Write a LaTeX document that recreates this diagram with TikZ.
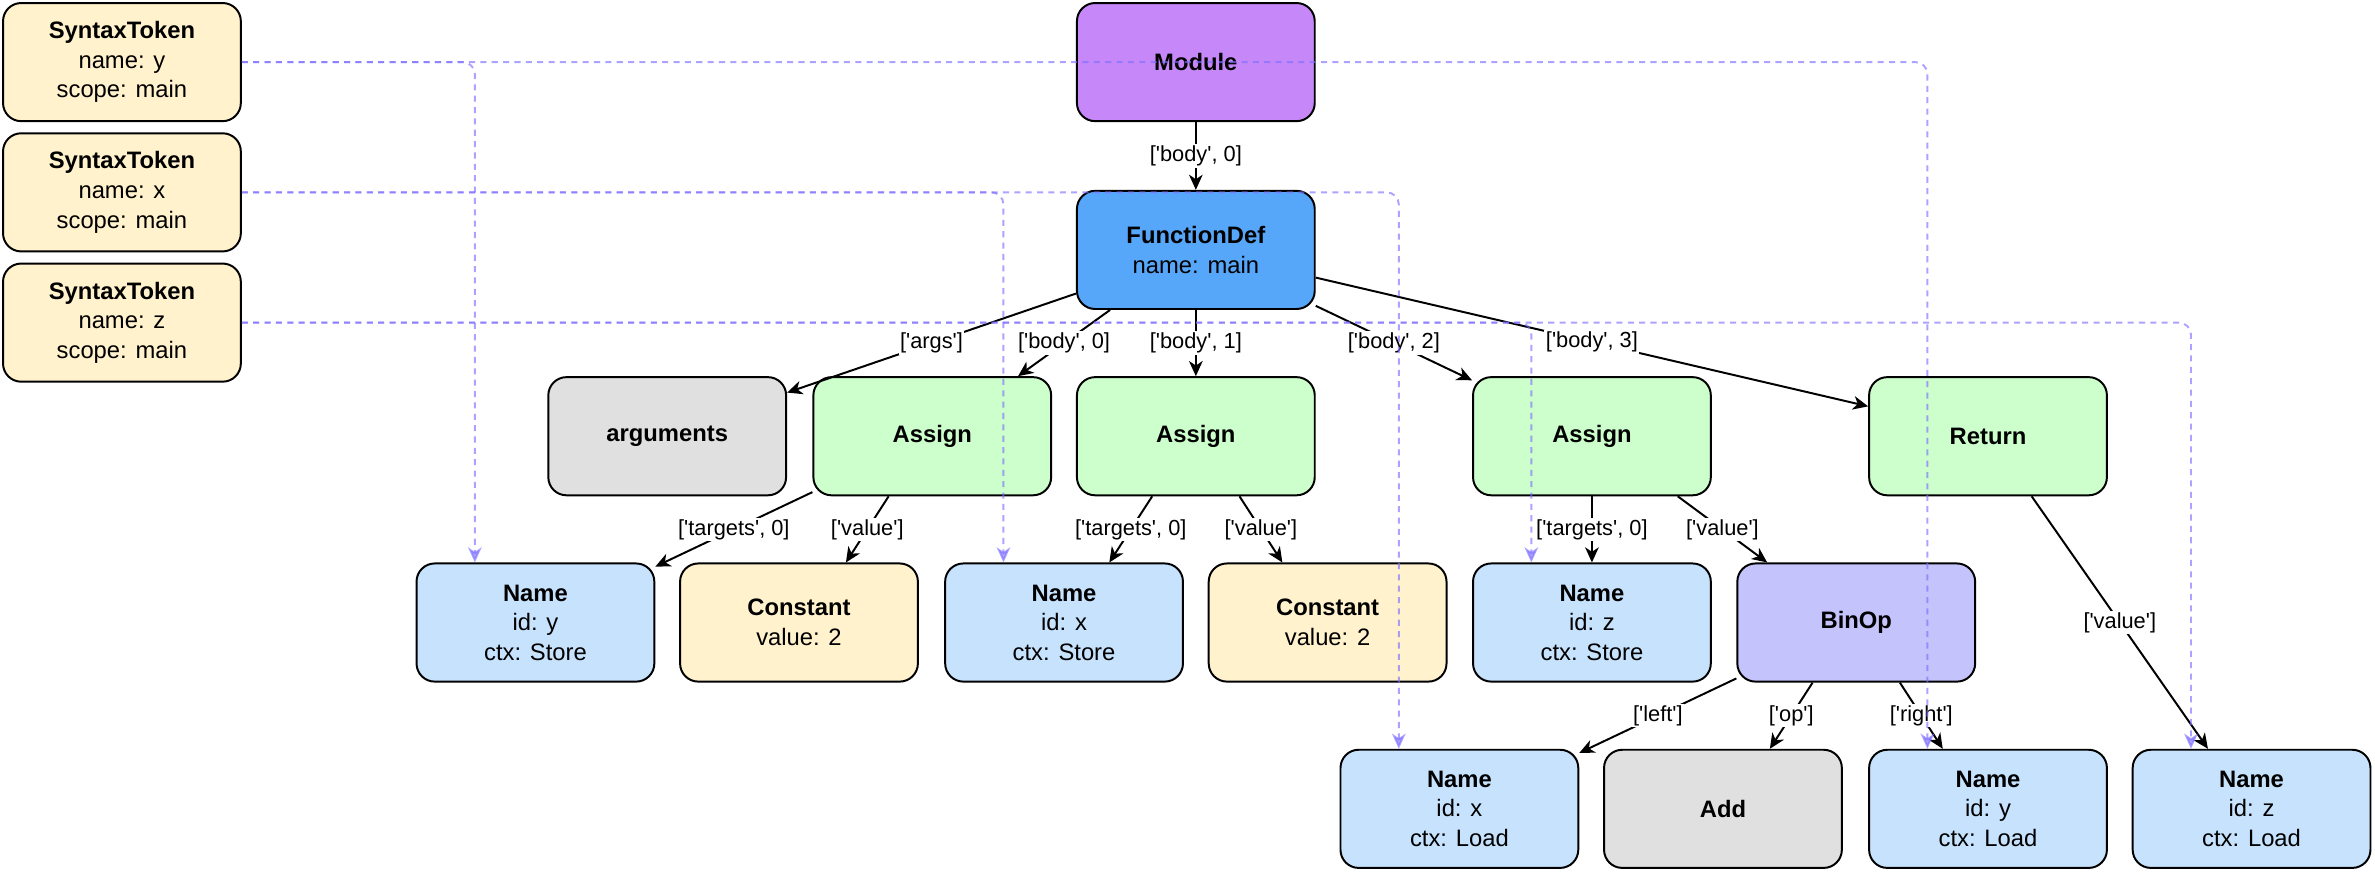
\documentclass[tikz,border=0pt]{standalone}
\usepackage{fontspec}
\setmainfont{Liberation Sans}
\usetikzlibrary{arrows.meta}

\definecolor{tokfill}{HTML}{FFF2CC}
\definecolor{modfill}{HTML}{C688F9}
\definecolor{fdfill}{HTML}{56A6F9}
\definecolor{stmtfill}{HTML}{CCFFCC}
\definecolor{namefill}{HTML}{C6E2FD}
\definecolor{greyfill}{HTML}{E0E0E0}
\definecolor{binfill}{HTML}{C4C3FB}
\definecolor{refline}{HTML}{7F70FF}

% straight quote for field labels
\newcommand{\qt}{\textquotesingle}

\begin{document}
\begin{tikzpicture}[x=1pt, y=1pt,
    box/.style={draw, line width=1.3pt, rounded corners=12pt, minimum width=157pt, minimum height=78pt,
        align=center, inner sep=0pt, font=\fontsize{15.7}{19.5}\selectfont},
    lbl/.style={fill=white, inner sep=1pt, font=\fontsize{14.4}{16}\selectfont},
    edge/.style={line width=1.3pt, -{Stealth[length=10pt, width=9pt, inset=3pt]}},
    ref/.style={draw=refline, opacity=0.65, line width=1.3pt, dash pattern=on 4pt off 3.5pt,
        rounded corners=8pt, -{Stealth[length=10pt, width=9pt, inset=3pt]}}]
    \useasboundingbox (0, 0) rectangle (1568, -577);

    % symbol table
    \node[box, fill=tokfill] (tky) at (80.5, -41) {\textbf{SyntaxToken}\\name: y\\scope: main};
    \node[box, fill=tokfill] (tkx) at (80.5, -127) {\textbf{SyntaxToken}\\name: x\\scope: main};
    \node[box, fill=tokfill] (tkz) at (80.5, -213) {\textbf{SyntaxToken}\\name: z\\scope: main};

    % tree
    \node[box, fill=modfill] (mod) at (789.5, -41) {\textbf{Module}};
    \node[box, fill=fdfill] (fdef) at (789.5, -165) {\textbf{FunctionDef}\\name: main};

    \node[box, fill=greyfill] (args) at (440.5, -288) {\textbf{arguments}};
    \node[box, fill=stmtfill] (asg1) at (615.5, -288) {\textbf{Assign}};
    \node[box, fill=stmtfill] (asg2) at (789.5, -288) {\textbf{Assign}};
    \node[box, fill=stmtfill] (asg3) at (1051, -288) {\textbf{Assign}};
    \node[box, fill=stmtfill] (ret) at (1312.5, -288) {\textbf{Return}};

    \node[box, fill=namefill] (nys) at (353.5, -411) {\textbf{Name}\\id: y\\ctx: Store};
    \node[box, fill=tokfill] (c1) at (527.5, -411) {\textbf{Constant}\\value: 2};
    \node[box, fill=namefill] (nxs) at (702.5, -411) {\textbf{Name}\\id: x\\ctx: Store};
    \node[box, fill=tokfill] (c2) at (876.5, -411) {\textbf{Constant}\\value: 2};
    \node[box, fill=namefill] (nzs) at (1051, -411) {\textbf{Name}\\id: z\\ctx: Store};
    \node[box, fill=binfill] (bop) at (1225.5, -411) {\textbf{BinOp}};

    \node[box, fill=namefill] (nxl) at (963.5, -534) {\textbf{Name}\\id: x\\ctx: Load};
    \node[box, fill=greyfill] (add) at (1137.5, -534) {\textbf{Add}};
    \node[box, fill=namefill] (nyl) at (1312.5, -534) {\textbf{Name}\\id: y\\ctx: Load};
    \node[box, fill=namefill] (nzl) at (1486.5, -534) {\textbf{Name}\\id: z\\ctx: Load};

    % fields
    \draw[edge] (mod.south) -- node[lbl] {[\qt body\qt, 0]} (fdef.north);
    \draw[edge] (fdef.200) -- node[lbl] {[\qt args\qt]} (args.20);
    \draw[edge] (fdef.215) -- node[lbl] {[\qt body\qt, 0]} (asg1.35);
    \draw[edge] (fdef.south) -- node[lbl] {[\qt body\qt, 1]} (asg2.north);
    \draw[edge] (fdef.-25) -- node[lbl] {[\qt body\qt, 2]} (asg3.155);
    \draw[edge] (fdef.-13) -- node[lbl] {[\qt body\qt, 3]} (ret.166);
    \draw[edge] (asg1.205) -- node[lbl] {[\qt targets\qt, 0]} (nys.25);
    \draw[edge] (asg1.234) -- node[lbl] {[\qt value\qt]} (c1.52);
    \draw[edge] (asg2.234) -- node[lbl] {[\qt targets\qt, 0]} (nxs.53);
    \draw[edge] (asg2.306) -- node[lbl] {[\qt value\qt]} (c2.127);
    \draw[edge] (asg3.south) -- node[lbl] {[\qt targets\qt, 0]} (nzs.north);
    \draw[edge] (asg3.325) -- node[lbl] {[\qt value\qt]} (bop.146);
    \draw[edge] (ret.306) -- node[lbl] {[\qt value\qt]} (nzl.126);
    \draw[edge] (bop.205) -- node[lbl] {[\qt left\qt]} (nxl.25);
    \draw[edge] (bop.234) -- node[lbl] {[\qt op\qt]} (add.52);
    \draw[edge] (bop.306) -- node[lbl] {[\qt right\qt]} (nyl.127);

    % references to the symbol table
    \draw[ref] (tky.east) -| ([xshift=-40pt]nys.north);
    \draw[ref] (tky.east) -| ([xshift=-40pt]nyl.north);
    \draw[ref] (tkx.east) -| ([xshift=-40pt]nxs.north);
    \draw[ref] (tkx.east) -| ([xshift=-40pt]nxl.north);
    \draw[ref] (tkz.east) -| ([xshift=-40pt]nzs.north);
    \draw[ref] (tkz.east) -| ([xshift=-40pt]nzl.north);
\end{tikzpicture}
\end{document}
